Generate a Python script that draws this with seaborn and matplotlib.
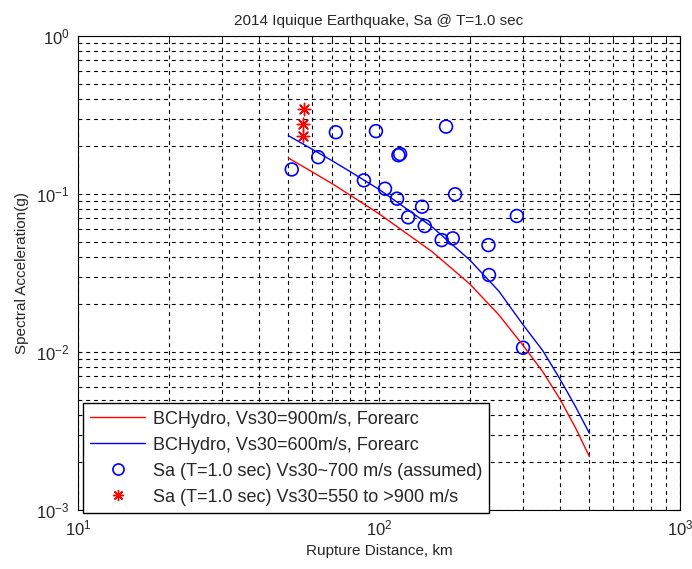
import matplotlib
matplotlib.use("Agg")
import matplotlib.pyplot as plt
import seaborn as sns
import pandas as pd
from matplotlib.lines import Line2D

# ---- data ----
model_dist = [50, 60, 70, 80, 100, 150, 200, 250, 300, 350, 400, 450, 500]
sa_vs900 = [0.169, 0.138, 0.116, 0.0986, 0.0750, 0.0432, 0.0270, 0.0172,
            0.0111, 0.0075, 0.0050, 0.0033, 0.00218]
sa_vs600 = [0.234, 0.192, 0.162, 0.139, 0.107, 0.0620, 0.0383, 0.0243,
            0.0150, 0.0102, 0.0067, 0.0045, 0.00306]

obs_dist = [51.3, 62.8, 71.9, 97.7, 167, 116, 117.5, 89.1, 104.7, 114.8, 179,
            139, 125, 287, 141.9, 161.5, 175.8, 231, 232, 301]
obs_sa = [0.143, 0.171, 0.246, 0.250, 0.267, 0.176, 0.179, 0.122, 0.108, 0.0934,
          0.0996, 0.0831, 0.0712, 0.0726, 0.0627, 0.0511, 0.0524, 0.0475, 0.0307,
          0.01064]

star_dist = [56.4, 56.1, 56.1]
star_sa = [0.345, 0.277, 0.233]

labels = ["BCHydro, Vs30=900m/s, Forearc",
          "BCHydro, Vs30=600m/s, Forearc",
          "Sa (T=1.0 sec) Vs30~700 m/s (assumed)",
          "Sa (T=1.0 sec) Vs30=550 to >900 m/s"]

sns.set_style("white")
plt.rcParams['font.family'] = ['Liberation Sans', 'DejaVu Sans']

fig = plt.figure(figsize=(6.92, 5.69), dpi=100)
ax = fig.add_axes([78/692, 1 - 510/569, 602/692, 474/569])

df900 = pd.DataFrame({"d": model_dist, "sa": sa_vs900})
df600 = pd.DataFrame({"d": model_dist, "sa": sa_vs600})
dfo = pd.DataFrame({"d": obs_dist, "sa": obs_sa})
dfs = pd.DataFrame({"d": star_dist, "sa": star_sa})

sns.lineplot(data=df900, x="d", y="sa", ax=ax, color="red", lw=1.0, estimator=None, sort=False)
sns.lineplot(data=df600, x="d", y="sa", ax=ax, color="blue", lw=1.0, estimator=None, sort=False)
sns.scatterplot(data=dfo, x="d", y="sa", ax=ax, marker="o", s=85,
                facecolors="none", edgecolor="blue", linewidth=1.2)
sns.scatterplot(data=dfs, x="d", y="sa", ax=ax, marker=(8, 2, 0), s=80,
                color="red", edgecolor="red", linewidth=1.0)

ax.set_xscale("log")
ax.set_yscale("log")
ax.set_xlim(10, 1000)
ax.set_ylim(1e-3, 1)

ax.grid(True, which="both", color="black", linestyle=(0, (3.5, 3.5)), linewidth=0.8)
ax.set_axisbelow(True)
for s in ax.spines.values():
    s.set_color("black")
    s.set_linewidth(0.8)
ax.tick_params(which="both", direction="in", top=True, right=True, color="black")
ax.tick_params(which="major", length=5, labelsize=12, pad=6)
ax.tick_params(which="minor", length=3)

ax.set_title("2014 Iquique Earthquake, Sa @ T=1.0 sec", fontsize=11, pad=8)
ax.set_xlabel("Rupture Distance, km", fontsize=11, labelpad=4)
ax.set_ylabel("Spectral Acceleration(g)", fontsize=11, labelpad=5)

handles = [
    Line2D([], [], color="red", lw=1.0),
    Line2D([], [], color="blue", lw=1.0),
    Line2D([], [], color="blue", marker="o", linestyle="none", markersize=8,
           markerfacecolor="none", markeredgewidth=1.2),
    Line2D([], [], color="red", marker=(8, 2, 0), linestyle="none", markersize=8,
           markeredgewidth=1.0),
]
leg = ax.legend(handles, labels, loc="lower left",
                bbox_to_anchor=(83/692, 1 - 513/569), bbox_transform=fig.transFigure,
                fontsize=13, frameon=True, fancybox=False, framealpha=1,
                edgecolor="black", handlelength=3.05, handletextpad=0.4,
                labelspacing=0.5, borderpad=0.4, borderaxespad=0)
leg.get_frame().set_linewidth(1.0)

fig.savefig("out.png", dpi=100)
